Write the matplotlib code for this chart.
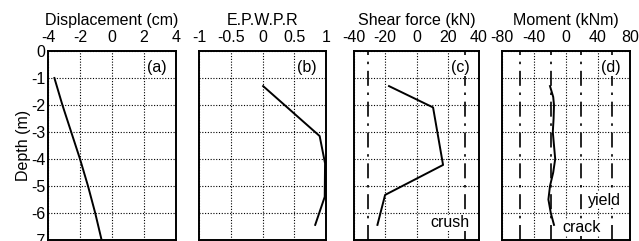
import matplotlib.pyplot as plt

plt.rcParams['font.family'] = ['Liberation Sans', 'DejaVu Sans']
plt.rcParams['font.size'] = 11

# (a) displacement profile
disp_depth = [-1, -2, -3, -4, -5, -6, -7]
disp_cm = [-3.6, -3.1, -2.55, -2.0, -1.5, -1.05, -0.65]

# (b) excess pore water pressure ratio
epwpr_depth = [-1.3, -3.15, -4.16, -5.4, -6.44]
epwpr = [0.01, 0.9, 0.985, 0.98, 0.83]

# (c) shear force
shear_depth = [-1.3, -2.09, -4.22, -5.33, -6.44]
shear_kn = [-17.6, 10.6, 17.0, -20.1, -25.0]
crush_kn = [-31, 31]

# (d) bending moment
mom_depth = [-1.3, -1.7, -2.0, -2.5, -3.0, -3.5, -4.0, -4.5, -5.0, -5.5, -6.0, -6.44]
mom_knm = [-20, -16, -15, -15.5, -16.5, -15, -13.5, -16, -20, -22, -19, -15]
crack_knm = [-19, 19]
yield_knm = [-58, 58]

fig = plt.figure(figsize=(6.39, 2.41), dpi=100)

W, H = 639, 241
def make_ax(left, right):
    return fig.add_axes([left / W, 1 / H, (right - left) / W, 189 / H])

ax_a = make_ax(48, 176)
ax_b = make_ax(199, 326)
ax_c = make_ax(354, 479)
ax_d = make_ax(502, 630)

panels = [
    (ax_a, 'Displacement (cm)', (-4, 4), [-4, -2, 0, 2, 4], ['-4', '-2', '0', '2', '4'], '(a)'),
    (ax_b, 'E.P.W.P.R', (-1, 1), [-1, -0.5, 0, 0.5, 1], ['-1', '-0.5', '0', '0.5', '1'], '(b)'),
    (ax_c, 'Shear force (kN)', (-40, 40), [-40, -20, 0, 20, 40], ['-40', '-20', '0', '20', '40'], '(c)'),
    (ax_d, 'Moment (kNm)', (-80, 80), [-80, -40, 0, 40, 80], ['-80', '-40', '0', '40', '80'], '(d)'),
]

for ax, title, xlim, xt, xtl, tag in panels:
    ax.set_xlim(*xlim)
    ax.set_ylim(-7, 0)
    ax.xaxis.tick_top()
    ax.xaxis.set_label_position('top')
    ax.set_xticks(xt)
    ax.set_xticklabels(xtl)
    ax.set_yticks(range(-7, 1))
    ax.tick_params(axis='x', length=0, pad=4, labelsize=11.5)
    ax.tick_params(axis='y', length=0, pad=2, labelsize=11.5)
    ax.set_xlabel(title, fontsize=11.5, labelpad=4)
    ax.grid(True, color='black', linestyle=(0, (1, 1.5)), linewidth=0.8)
    for s in ax.spines.values():
        s.set_linewidth(1.4)
    ax.text(0.93, 0.95, tag, transform=ax.transAxes, ha='right', va='top', fontsize=11.5,
            bbox=dict(facecolor='white', edgecolor='none', pad=0.5))
    if ax is not ax_a:
        ax.set_yticklabels([])

ax_a.set_yticklabels([str(v) for v in range(-7, 1)])
ax_a.set_ylabel('Depth (m)', labelpad=0, fontsize=11.5)

ax_a.plot(disp_cm, disp_depth, color='black', linewidth=1.4)
ax_b.plot(epwpr, epwpr_depth, color='black', linewidth=1.4)
ax_c.plot(shear_kn, shear_depth, color='black', linewidth=1.4)
ax_d.plot(mom_knm, mom_depth, color='black', linewidth=1.4)

# limit lines (dash-dot)
dashdot = (0, (9, 4, 1.5, 4))
for v in crush_kn:
    ax_c.axvline(v, color='black', linewidth=1.2, linestyle=dashdot, zorder=1)
for v in crack_knm + yield_knm:
    ax_d.axvline(v, color='black', linewidth=1.2, linestyle=dashdot, zorder=1)

box = dict(facecolor='white', edgecolor='none', pad=0.5)
ax_c.text(34, -6.37, 'crush', ha='right', va='center', fontsize=11.5, bbox=box, zorder=3)
ax_d.text(69, -5.52, 'yield', ha='right', va='center', fontsize=11.5, bbox=box, zorder=3)
ax_d.text(44, -6.55, 'crack', ha='right', va='center', fontsize=11.5, bbox=box, zorder=3)

fig.savefig('out.png', dpi=100)
